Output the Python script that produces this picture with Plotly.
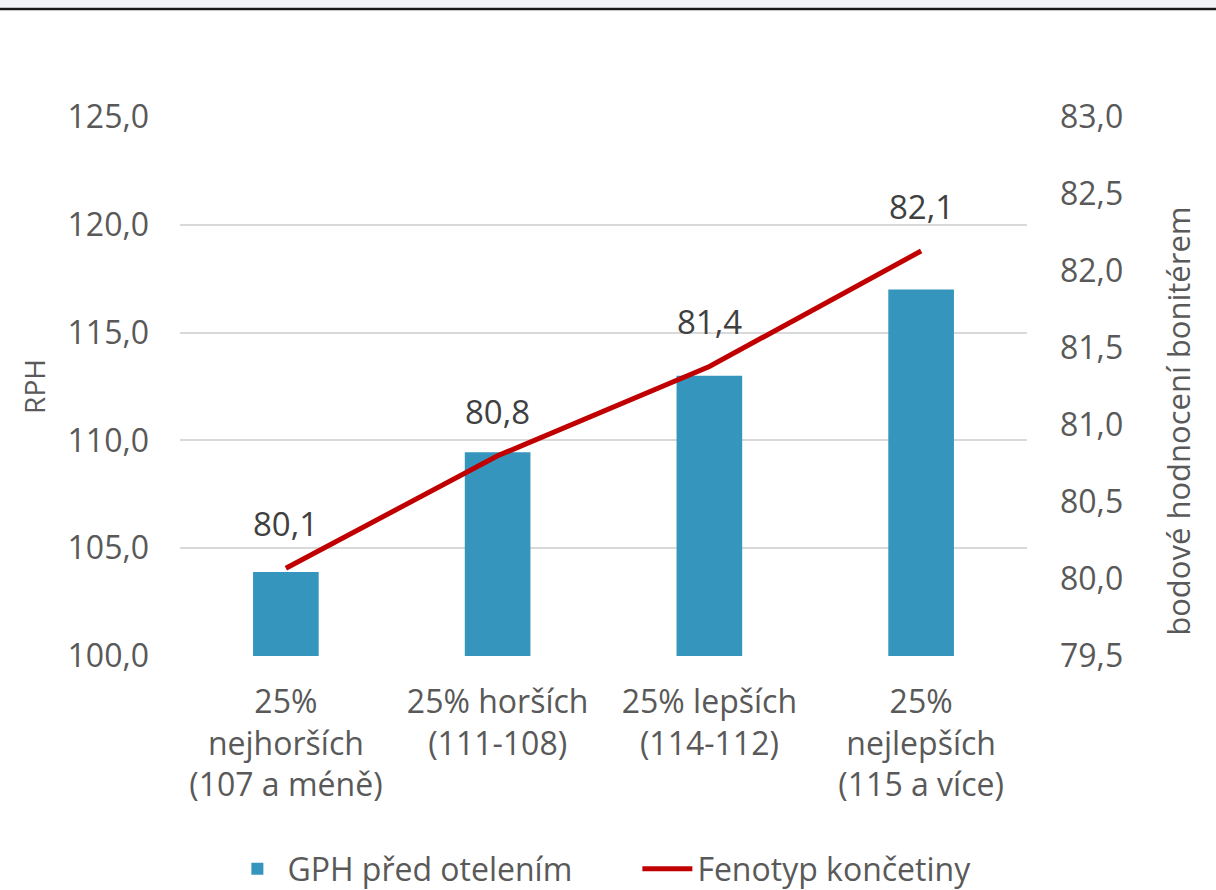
import plotly.graph_objects as go

categories = ["25%<br>nejhorších<br>(107 a méně)", "25% horších<br>(111-108)",
              "25% lepších<br>(114-112)", "25%<br>nejlepších<br>(115 a více)"]
gph_values = [103.9, 109.45, 113.0, 117.0]
fenotyp_values = [80.07, 80.8, 81.38, 82.13]
fenotyp_labels = ["80,1", "80,8", "81,4", "82,1"]

FONT = "Open Sans"
GRAY = "#595959"

fig = go.Figure()
fig.add_trace(go.Bar(x=categories, y=gph_values, name="GPH před otelením",
                     marker=dict(color="#3595bc", line=dict(width=0)),
                     width=0.31, yaxis="y"))
fig.add_trace(go.Scatter(x=categories, y=fenotyp_values, name="Fenotyp končetiny",
                         mode="lines", line=dict(color="#c00000", width=5),
                         yaxis="y2"))

for c, v, t in zip(categories, fenotyp_values, fenotyp_labels):
    fig.add_annotation(x=c, y=v, yref="y2", text=t, showarrow=False,
                       yanchor="bottom", yshift=20,
                       font=dict(family=FONT, size=33, color="#404040"))

# right axis title as annotation (positioned like the reference)
fig.add_annotation(xref="paper", yref="paper", x=1.178, y=0.436,
                   text="bodové hodnocení bonitérem", textangle=-90, showarrow=False,
                   xanchor="center", yanchor="middle",
                   font=dict(family=FONT, size=31, color=GRAY))

fig.update_layout(
    width=1216, height=890,
    margin=dict(l=180, r=189, t=117, b=234, autoexpand=False),
    paper_bgcolor="white", plot_bgcolor="white",
    separators=", ",
    font=dict(family=FONT, size=31, color=GRAY),
    showlegend=True,
    legend=dict(orientation="h", x=0.54, xanchor="center", y=-0.395, yanchor="middle",
                font=dict(family=FONT, size=32, color=GRAY), itemwidth=50,
                entrywidth=345, traceorder="normal"),
    bargap=0.5,
    xaxis=dict(showgrid=False, showline=False, ticks="", ticklabelstandoff=24,
               tickfont=dict(family=FONT, size=32, color=GRAY)),
    yaxis=dict(range=[100, 125], dtick=5, tickformat=".1f", showgrid=True,
               gridcolor="#d9d9d9", gridwidth=1.5, zeroline=False, showline=False,
               ticklabelstandoff=30,
               title=dict(text="RPH", standoff=13, font=dict(family=FONT, size=28, color=GRAY)),
               tickfont=dict(family=FONT, size=32, color=GRAY)),
    yaxis2=dict(range=[79.5, 83.0], dtick=0.5, tickformat=".1f", overlaying="y",
                side="right", showgrid=False, zeroline=False, showline=False,
                ticklabelstandoff=32,
                tickfont=dict(family=FONT, size=32, color=GRAY)),
)

# top band and rule
fig.add_shape(type="rect", xref="paper", yref="paper", x0=-0.3, x1=1.3, y0=1.203, y1=1.25,
              fillcolor="#f3f4f8", line=dict(width=0), layer="below")
fig.add_shape(type="line", xref="paper", yref="paper", x0=-0.3, x1=1.3, y0=1.2005, y1=1.2005,
              line=dict(color="#1a1a1a", width=2.5))

fig.write_html("out.html", config={"displayModeBar": False})

with open("out.html", "r", encoding="utf-8") as f:
    html = f.read()
html = html.replace("<head>", "<head><style>html,body{margin:0;padding:0;overflow:hidden;}</style>", 1)
with open("out.html", "w", encoding="utf-8") as f:
    f.write(html)
